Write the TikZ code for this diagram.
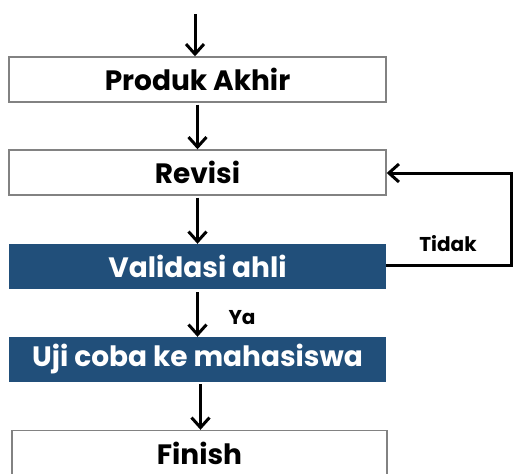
\documentclass[tikz,border=0pt]{standalone}
\usepackage{fontspec}
\setmainfont{Poppins}
\usetikzlibrary{arrows.meta}
\definecolor{boxblue}{RGB}{33,79,122}
\definecolor{boxgray}{RGB}{130,130,130}
\begin{document}
\begin{tikzpicture}[x=1pt,y=-1pt,
  plainbox/.style={draw=boxgray,line width=1.4pt,fill=white,minimum width=377pt,minimum height=45pt,inner sep=0pt,font=\fontsize{28}{32}\selectfont\bfseries},
  bluebox/.style={fill=boxblue,minimum width=377pt,minimum height=45pt,inner sep=0pt,text=white,font=\fontsize{28}{32}\selectfont\bfseries},
  flow/.style={line width=3pt,-{Straight Barb[length=10pt,width=18pt,line width=3pt]}},
  lbl/.style={font=\fontsize{20}{24}\selectfont\bfseries}]
\useasboundingbox (0,0) rectangle (523,474);
\clip (0,0) rectangle (523,474);
\coordinate (start) at (195,14);
\node[plainbox] (prod) at (197.5,79.5) {Produk Akhir};
\node[plainbox] (rev) at (197.5,172.5) {Revisi};
\node[bluebox] (val) at (197.5,266.5) {Validasi ahli};
\node[bluebox] (uji) at (197.5,359.5) {Uji coba ke mahasiswa};
\node[plainbox,minimum width=375pt] (fin) at (199.5,453) {Finish};
\coordinate (c1) at (511,265);
\coordinate (c2) at (511,173);
\draw[flow] (start) -- (start |- prod.north);
\draw[flow] (prod.south) ++(0,2) -- (rev.north);
\draw[flow] (rev.south) ++(0,2) -- (val.north);
\draw[flow] (val.south) ++(0,3) -- (uji.north);
\draw[flow] ([xshift=3pt]uji.south) ++(0,2) -- ([xshift=3pt]uji.south |- fin.north);
\draw[flow] (val.east |- c1) -- (c1) -- (c2) -- (rev.east |- c2);
\node[lbl] (tidak) at (448,244) {Tidak};
\node[lbl] (ya) at (242,318) {Ya};
\end{tikzpicture}
\end{document}
